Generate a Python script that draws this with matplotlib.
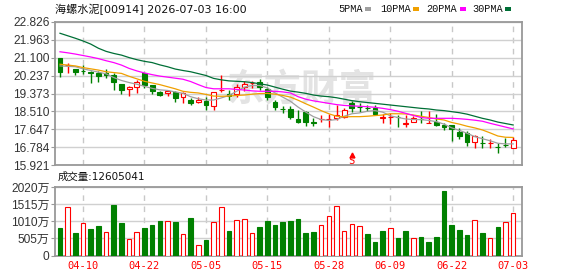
import matplotlib
matplotlib.use("Agg")
import matplotlib.pyplot as plt
from matplotlib.patches import Rectangle
import numpy as np

# ---------------- data ----------------
dates = ["04-02", "04-08", "04-09", "04-10", "04-13", "04-14", "04-15", "04-16", "04-17", "04-20",
         "04-21", "04-22", "04-23", "04-24", "04-27", "04-28", "04-29", "04-30", "05-04", "05-05",
         "05-06", "05-07", "05-08", "05-11", "05-12", "05-13", "05-14", "05-15", "05-18", "05-19",
         "05-20", "05-21", "05-22", "05-26", "05-27", "05-28", "05-29", "06-01", "06-02", "06-03",
         "06-04", "06-05", "06-08", "06-09", "06-10", "06-11", "06-12", "06-15", "06-16", "06-17",
         "06-18", "06-22", "06-23", "06-24", "06-25", "06-26", "06-29", "06-30", "07-02", "07-03"]

opens = [21.07, 20.73, 20.55, 20.47, 20.42, 20.34, 20.34, 20.26, 19.83, 19.58,
         19.70, 20.34, 19.78, 19.46, 19.38, 19.46, 19.22, 19.06, 18.96, 19.01,
         18.77, 19.53, 19.35, 19.35, 19.70, 19.87, 19.94, 19.58, 18.98, 18.62,
         18.61, 18.15, 18.50, 17.98, 18.14, 18.15, 18.18, 18.23, 18.90, 18.72,
         18.70, 18.66, 18.21, 18.24, 18.24, 17.92, 18.02, 18.17, 17.96, 18.02,
         17.86, 17.86, 17.54, 17.46, 17.06, 16.98, 16.98, 16.80, 16.91, 16.74]
highs = [21.08, 20.86, 20.56, 20.74, 20.45, 20.46, 20.55, 20.34, 19.84, 19.75,
         20.02, 20.36, 19.79, 19.51, 19.54, 19.49, 19.46, 19.14, 19.19, 19.19,
         19.46, 20.26, 19.54, 19.83, 19.97, 19.99, 20.07, 19.70, 19.06, 18.77,
         18.77, 18.58, 18.52, 18.18, 18.34, 18.39, 18.82, 18.66, 19.03, 18.90,
         18.82, 18.82, 18.39, 18.45, 18.34, 18.34, 18.31, 18.53, 18.53, 18.39,
         17.94, 17.88, 17.70, 17.57, 17.38, 17.33, 17.17, 16.98, 17.22, 17.27]
lows = [20.18, 20.35, 20.26, 20.32, 19.86, 19.94, 20.10, 19.54, 19.35, 19.25,
        19.38, 19.62, 19.35, 19.25, 19.25, 18.98, 18.93, 18.82, 18.90, 18.58,
        18.58, 19.46, 19.06, 19.19, 19.51, 19.62, 19.54, 19.06, 18.58, 18.45,
        18.13, 17.94, 17.81, 17.81, 18.02, 17.78, 18.10, 18.18, 18.50, 18.50,
        18.55, 18.34, 17.94, 17.90, 17.78, 17.78, 18.02, 17.94, 17.94, 17.81,
        17.62, 17.09, 17.19, 16.85, 16.74, 16.74, 16.74, 16.53, 16.79, 16.74]
closes = [20.42, 20.74, 20.42, 20.45, 20.34, 20.23, 20.26, 19.94, 19.54, 19.67,
          19.94, 19.78, 19.51, 19.32, 19.49, 19.17, 19.38, 18.90, 19.06, 18.82,
          19.46, 19.55, 19.25, 19.67, 19.82, 19.89, 19.70, 19.19, 18.71, 18.61,
          18.26, 18.02, 17.99, 17.97, 18.15, 18.16, 18.34, 18.58, 18.66, 18.71,
          18.69, 18.39, 18.22, 18.25, 18.23, 17.94, 18.18, 18.15, 17.97, 17.86,
          17.78, 17.67, 17.33, 17.06, 17.33, 16.97, 17.00, 16.79, 16.90, 17.14]

# volume, in 万 shares
volumes = [810, 1428, 663, 957, 780, 869, 692, 1496, 957, 486,
           692, 810, 898, 1016, 1016, 986, 633, 1104, 309, 456,
           986, 1428, 721, 1045, 1075, 663, 839, 1016, 898, 986,
           1016, 1075, 663, 692, 898, 1163, 1458, 721, 927, 869,
           633, 398, 721, 810, 515, 721, 515, 545, 398, 545,
           1899, 898, 751, 604, 1037, 663, 515, 839, 986, 1260.5041]

ma5 = [20.70, 20.68, 20.66, 20.56, 20.48, 20.40, 20.32, 20.14, 20.00, 19.90,
       19.82, 19.72, 19.62, 19.55, 19.52, 19.45, 19.38, 19.22, 19.12, 19.06,
       19.06, 19.16, 19.28, 19.48, 19.68, 19.76, 19.76, 19.64, 19.40, 19.20,
       19.00, 18.72, 18.48, 18.26, 18.12, 18.08, 18.12, 18.28, 18.40, 18.44,
       18.52, 18.55, 18.48, 18.30, 18.22, 18.15, 18.12, 18.12, 18.08, 18.02,
       17.90, 17.72, 17.60, 17.46, 17.30, 17.20, 17.10, 16.98, 16.95, 16.95]
ma10 = [20.78, 20.74, 20.70, 20.62, 20.56, 20.50, 20.42, 20.38, 20.34, 20.20,
        20.08, 19.96, 19.88, 19.80, 19.70, 19.60, 19.48, 19.43, 19.40, 19.33,
        19.25, 19.24, 19.25, 19.28, 19.30, 19.34, 19.37, 19.38, 19.34, 19.28,
        19.20, 19.05, 18.88, 18.72, 18.55, 18.40, 18.28, 18.25, 18.26, 18.26,
        18.28, 18.31, 18.34, 18.40, 18.40, 18.39, 18.34, 18.28, 18.22, 18.15,
        18.10, 17.98, 17.90, 17.80, 17.72, 17.62, 17.48, 17.33, 17.27, 17.26]
ma20 = [21.38, 21.33, 21.27, 21.20, 21.13, 21.05, 20.95, 20.86, 20.74, 20.58,
        20.46, 20.36, 20.28, 20.21, 20.16, 20.11, 20.06, 19.95, 19.80, 19.66,
        19.60, 19.60, 19.60, 19.57, 19.54, 19.50, 19.48, 19.48, 19.48, 19.45,
        19.40, 19.22, 19.10, 19.02, 18.96, 18.90, 18.84, 18.80, 18.78, 18.76,
        18.74, 18.71, 18.66, 18.60, 18.52, 18.42, 18.32, 18.22, 18.18, 18.18,
        18.18, 18.18, 18.16, 18.13, 18.09, 18.04, 17.94, 17.85, 17.76, 17.67]
ma30 = [22.27, 22.15, 22.03, 21.90, 21.75, 21.55, 21.40, 21.30, 21.22, 21.10,
        21.00, 20.92, 20.86, 20.75, 20.66, 20.55, 20.48, 20.42, 20.33, 20.24,
        20.10, 20.03, 19.98, 19.96, 19.94, 19.90, 19.84, 19.78, 19.68, 19.58,
        19.49, 19.44, 19.38, 19.30, 19.25, 19.22, 19.17, 19.10, 19.03, 18.98,
        18.94, 18.90, 18.86, 18.82, 18.78, 18.74, 18.70, 18.66, 18.63, 18.58,
        18.55, 18.50, 18.45, 18.38, 18.28, 18.18, 18.10, 18.00, 17.93, 17.86]

price_ticks = [22.826, 21.963, 21.100, 20.237, 19.373, 18.510, 17.647, 16.784, 15.921]
vol_ticks = [0, 505, 1010, 1515, 2020]
tick_dates = ["04-10", "04-22", "05-05", "05-15", "05-28", "06-09", "06-22", "07-03"]
signal_dates = ["06-02"]
title_text = "海螺水泥[00914] 2026-07-03 16:00"
last_volume = 12605041
ma_names = ["5PMA", "10PMA", "20PMA", "30PMA"]

# ---------------- style ----------------
RED = "#ff0000"
GREEN = "#008000"
MA_COLORS = ["#a0a0a0", "#f0a000", "#ff00ff", "#006f36"]
GRID = "#d0d0d0"
FRAME = "#999999"
TXT = "#333333"
CJK = ["DejaVu Sans", "Noto Sans CJK SC"]
NUMF = ["Liberation Sans", "Noto Sans CJK SC"]

W, H = 578, 276
fig = plt.figure(figsize=(W / 100, H / 100), dpi=100)
fig.patch.set_facecolor("white")


def fx(px):
    return px / W


def fy(py):
    return 1 - py / H


left, right = 55, 522
ax = fig.add_axes([fx(left), fy(165.3), fx(right - left), (165.3 - 21.7) / H])
axv = fig.add_axes([fx(left), fy(255.5), fx(right - left), (255.5 - 187) / H])

x = np.arange(len(closes))
o = np.array(opens)
h = np.array(highs)
l = np.array(lows)
c = np.array(closes)
up = c > o

tick_pos = [dates.index(d) for d in tick_dates]

for a in (ax, axv):
    a.set_xlim(-0.65, 60.15)
    for s in a.spines.values():
        s.set_color(FRAME)
        s.set_linewidth(1.3)
    a.set_xticks([])
    for p in tick_pos:
        a.axvline(p, color="#c8c8c8", lw=1, ls=(0, (4, 4)), zorder=0.6)
    a.tick_params(axis="y", length=3, color=FRAME, pad=1)

# ---- price panel ----
ax.set_ylim(15.921, 22.826)
ax.set_yticks(price_ticks)
ax.set_yticklabels([f"{v:.3f}" for v in price_ticks], fontsize=8.6, color=TXT, family=NUMF)
ax.grid(axis="y", color=GRID, lw=1, zorder=0.5)

ax.text(31.5, 19.55, "东方财富", fontsize=27, color="#e3e3e3", family="Noto Sans CJK SC",
        weight="bold", ha="center", va="center", zorder=0.7)

wick_cols = np.where(up, RED, GREEN)
ax.vlines(x, l, h, colors=wick_cols, lw=1, zorder=3)
body_bottom = np.minimum(o, c)
body_h = np.maximum(np.abs(c - o), 0.005)
ax.bar(x, body_h, bottom=body_bottom, width=0.62,
       color=np.where(up, "white", GREEN), edgecolor=wick_cols, lw=0.8, zorder=4)

for vals, col in zip([ma5, ma10, ma20, ma30], MA_COLORS):
    ax.plot(x, vals, color=col, lw=0.9, zorder=5)

for d in signal_dates:
    p = dates.index(d)
    ax.plot([p], [16.42], marker="^", color=RED, ms=3.5, zorder=6)
    ax.text(p, 16.15, "S", color=RED, fontsize=7.5, family="DejaVu Sans Mono",
            ha="center", va="center", zorder=6)

# ---- volume panel ----
vol = np.array(volumes)
vol_up = np.concatenate([[up[0]], c[1:] >= c[:-1]])
vcols = np.where(vol_up, RED, GREEN)
axv.bar(x, vol, width=0.6, color=np.where(vol_up, "white", GREEN), edgecolor=vcols,
        lw=0.8, zorder=3)
axv.set_ylim(0, 2020)
axv.set_yticks(vol_ticks)
axv.set_yticklabels(["0" if v == 0 else f"{v}万" for v in vol_ticks], fontsize=8.6,
                    color=TXT, family=NUMF)
axv.grid(axis="y", color=GRID, lw=1, zorder=0.5)

for p, lab in zip(tick_pos, tick_dates):
    axv.text(p, -0.16, lab, transform=axv.get_xaxis_transform(), color=RED,
             fontsize=7.5, family="DejaVu Sans Mono", ha="center", va="center")

# ---- header texts ----
fig.text(fx(55), fy(9), title_text, fontsize=8, family=CJK, color="#111111",
         ha="left", va="center")
fig.text(fx(58), fy(177), f"成交量:{last_volume}", fontsize=7.5, family=CJK,
         color="#111111", ha="left", va="center")

leg_x = [338, 380, 426, 472]
sq_x = [365, 413, 460, 505]
for name, lx, sx, col in zip(ma_names, leg_x, sq_x, MA_COLORS):
    fig.text(fx(lx), fy(9), name, fontsize=7.4, family="Liberation Mono",
             color="#111111", ha="left", va="center")
    fig.add_artist(Rectangle((fx(sx), fy(10.5)), fx(6), 3.5 / H,
                             transform=fig.transFigure, color=col, lw=0))

fig.savefig("out.png", dpi=100, facecolor="white")
